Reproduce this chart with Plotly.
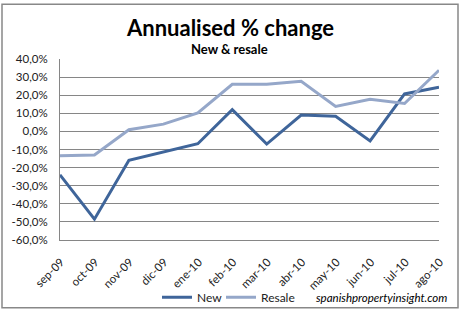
import plotly.graph_objects as go

months = ["sep-09", "oct-09", "nov-09", "dic-09", "ene-10", "feb-10",
          "mar-10", "abr-10", "may-10", "jun-10", "jul-10", "ago-10"]
new_vals = [-24.0, -48.5, -16.0, -11.5, -6.8, 12.0, -7.0, 9.0, 8.4, -5.3, 20.7, 24.4]
resale_vals = [-13.5, -13.0, 0.9, 4.0, 10.2, 26.0, 26.0, 27.7, 13.8, 17.7, 15.4, 33.8]
y_ticks = [40, 30, 20, 10, 0, -10, -20, -30, -40, -50, -60]
y_labels = [f"{v:.1f}%".replace(".", ",") for v in y_ticks]

FONT = "Lato"
fig = go.Figure()
fig.add_trace(go.Scatter(x=months, y=new_vals, name="New", mode="lines",
                         line=dict(color="#3f659a", width=3), legend="legend"))
fig.add_trace(go.Scatter(x=months, y=resale_vals, name="Resale", mode="lines",
                         line=dict(color="#95a7c9", width=3), legend="legend2"))

L, R, T, B = 60, 21, 59, 74
W, H = 460, 323
pw, ph = W - L - R, H - T - B

def px(x):
    return (x - L) / pw

def py(y):
    return (H - B - y) / ph

leg_common = dict(orientation="h", yanchor="middle", xanchor="left",
                  font=dict(size=12, family=FONT), bgcolor="rgba(0,0,0,0)",
                  itemwidth=30)

fig.update_layout(
    width=W, height=H,
    margin=dict(l=L, r=R, t=T, b=B),
    paper_bgcolor="white", plot_bgcolor="white",
    font=dict(family=FONT, size=11, color="#222"),
    showlegend=True,
    legend=dict(x=px(157), y=py(309), **leg_common),
    legend2=dict(x=px(221), y=py(309), **leg_common),
    xaxis=dict(range=[0, 11], tickangle=-45, showgrid=False, showline=True,
               linecolor="#868686", linewidth=1, ticks="", tickfont=dict(size=11.5),
               ticklabelstandoff=10, ticklabelshift=1, fixedrange=True),
    yaxis=dict(range=[-60, 40], tickmode="array", tickvals=y_ticks, ticktext=y_labels,
               showgrid=True, gridcolor="#868686", gridwidth=1, zeroline=False,
               showline=True, linecolor="#868686", linewidth=1, ticks="",
               tickfont=dict(size=11.5), ticklabelstandoff=9, fixedrange=True),
    annotations=[
        dict(text="<b>Annualised % change</b>", x=px(230), y=py(26), xref="paper", yref="paper",
             showarrow=False, font=dict(size=22, family=FONT, color="black"),
             xanchor="center", yanchor="middle"),
        dict(text="<b>New & resale</b>", x=px(229), y=py(49), xref="paper", yref="paper",
             showarrow=False, font=dict(size=13, family=FONT, color="black"),
             xanchor="center", yanchor="middle"),
        dict(text="<i>spanishpropertyinsight.com</i>", x=px(449), y=py(309), xref="paper",
             yref="paper", showarrow=False, font=dict(size=11.5, family=FONT, color="black"),
             xanchor="right", yanchor="middle"),
    ],
    shapes=[dict(type="rect", xref="paper", yref="paper", x0=px(2), x1=px(458),
                 y0=py(320), y1=py(1.5), line=dict(color="#888", width=1.5),
                 fillcolor="rgba(0,0,0,0)", layer="below")],
)

fig.write_html("out.html")
